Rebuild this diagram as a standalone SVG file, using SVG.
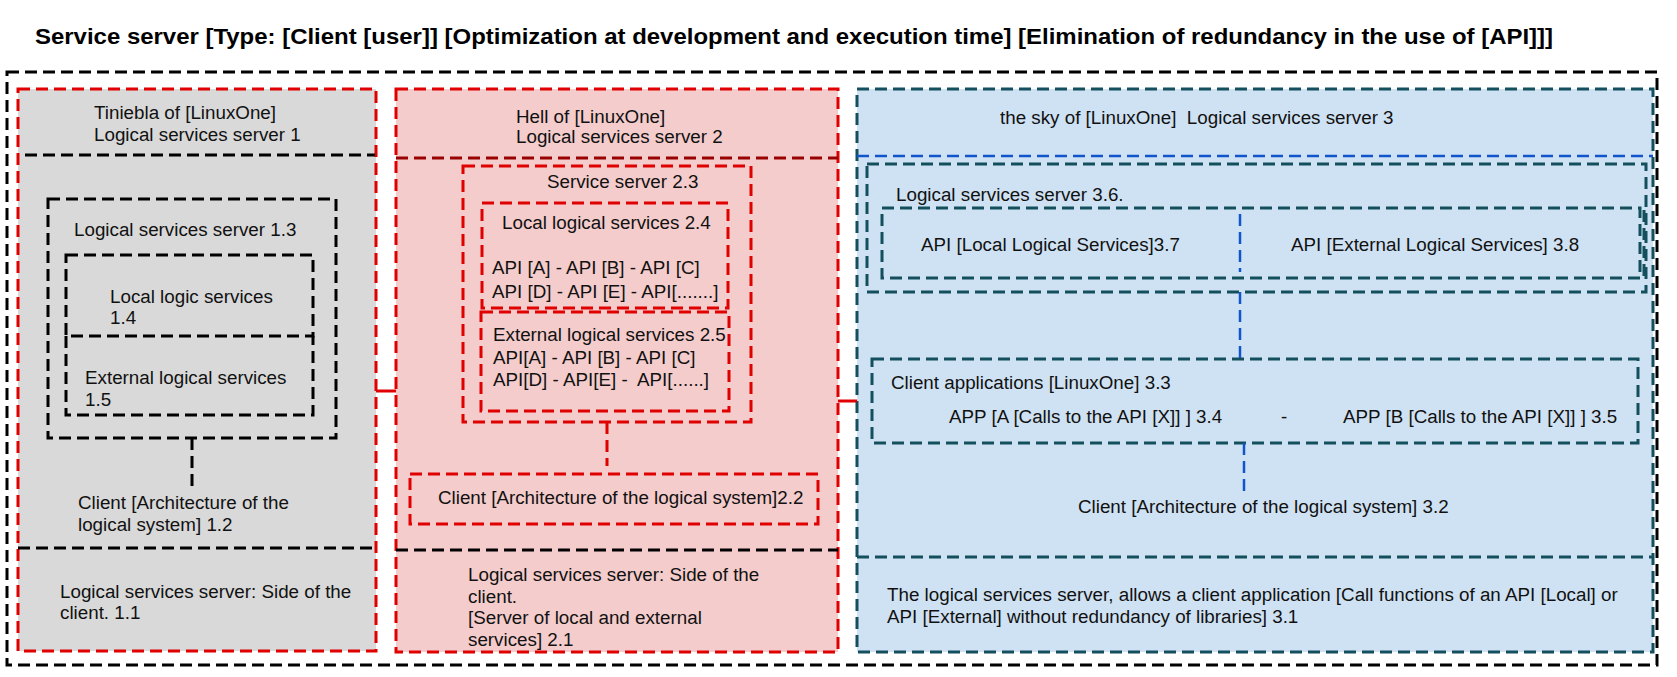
<svg xmlns="http://www.w3.org/2000/svg" width="1677" height="677" viewBox="0 0 1677 677">
<style>
text{font-family:"Liberation Sans",Arial,sans-serif;font-size:18.8px;fill:#111;white-space:pre}
.title{font-size:22px;font-weight:bold;fill:#000}
.k{fill:none;stroke:#000;stroke-width:3;stroke-dasharray:12 6}
.r{stroke:#e00000;stroke-width:3;stroke-dasharray:12 6}
.dr{fill:none;stroke:#990000;stroke-width:3;stroke-dasharray:12 6}
.t{stroke:#134f5c;stroke-width:3;stroke-dasharray:12 6}
.bl{fill:none;stroke:#1155cc;stroke-width:2.5;stroke-dasharray:12 6}
.nf{fill:none}
</style>
<rect width="1677" height="677" fill="#fff"/>
<text class="title" x="35" y="44" textLength="1518" lengthAdjust="spacingAndGlyphs">Service server [Type: [Client [user]] [Optimization at development and execution time] [Elimination of redundancy in the use of [API]]]</text>
<rect id="outer" class="k" x="7" y="72" width="1650" height="593"/>

<g id="server1">
<rect class="r" x="18" y="89" width="358" height="562" fill="#d9d9d9"/>
<line class="k" x1="25" y1="155" x2="375" y2="155"/>
<text x="94" y="119">Tiniebla of [LinuxOne]</text>
<text x="94" y="141">Logical services server 1</text>
<line class="k" x1="18" y1="548" x2="376" y2="548"/>
<text x="60" y="598">Logical services server: Side of the</text>
<text x="60" y="619">client. 1.1</text>
</g>
<g id="n1_3">
<rect class="k" x="48" y="199" width="288" height="239"/>
<text x="74" y="236">Logical services server 1.3</text>
</g>
<g id="n1_4">
<rect class="k" x="66" y="255" width="247" height="81"/>
<text x="110" y="303">Local logic services</text>
<text x="110" y="324">1.4</text>
</g>
<g id="n1_5">
<path class="k" d="M66 336 V415 H313 V336"/>
<text x="85" y="384">External logical services</text>
<text x="85" y="406">1.5</text>
</g>
<g id="n1_2">
<text x="78" y="509">Client [Architecture of the</text>
<text x="78" y="531">logical system] 1.2</text>
</g>

<g id="server2">
<rect class="r" x="396" y="89" width="442" height="563" fill="#f4cccc"/>
<line class="dr" x1="396" y1="158" x2="838" y2="158"/>
<text x="516" y="123">Hell of [LinuxOne]</text>
<text x="516" y="143">Logical services server 2</text>
<line class="k" x1="396" y1="550" x2="838" y2="550"/>
<text x="468" y="581">Logical services server: Side of the</text>
<text x="468" y="603">client.</text>
<text x="468" y="624">[Server of local and external</text>
<text x="468" y="646">services] 2.1</text>
</g>
<g id="n2_3">
<rect class="r nf" x="463" y="166" width="288" height="256"/>
<text x="547" y="188">Service server 2.3</text>
</g>
<g id="n2_4">
<rect class="r nf" x="482" y="203" width="246" height="105"/>
<text x="502" y="229">Local logical services 2.4</text>
<text x="492" y="274">API [A] - API [B] - API [C]</text>
<text x="492" y="298">API [D] - API [E] - API[.......]</text>
</g>
<g id="n2_5">
<rect class="r nf" x="481" y="312" width="248" height="99"/>
<text x="493" y="341">External logical services 2.5</text>
<text x="493" y="364">API[A] - API [B] - API [C]</text>
<text x="493" y="386">API[D] - API[E] -  API[......]</text>
</g>
<g id="n2_2">
<rect class="r nf" x="410" y="474" width="408" height="50"/>
<text x="438" y="504">Client [Architecture of the logical system]2.2</text>
</g>

<g id="server3">
<rect class="t" x="857" y="89" width="796" height="563" fill="#cfe2f3"/>
<text x="1000" y="124">the sky of [LinuxOne]  Logical services server 3</text>
<line class="bl" x1="857" y1="156" x2="1653" y2="156"/>
<line class="t" x1="857" y1="557" x2="1653" y2="557"/>
<text x="887" y="601">The logical services server, allows a client application [Call functions of an API [Local] or</text>
<text x="887" y="623">API [External] without redundancy of libraries] 3.1</text>
</g>
<g id="n3_6">
<rect class="t nf" x="867" y="164" width="779" height="128"/>
<text x="896" y="201">Logical services server 3.6.</text>
</g>
<g id="n3_7_8">
<rect class="t nf" x="882" y="208" width="758" height="70"/>
<line class="t" x1="1644" y1="210" x2="1644" y2="278"/>
<line class="bl" x1="1240" y1="214" x2="1240" y2="272"/>
<text x="921" y="251">API [Local Logical Services]3.7</text>
<text x="1291" y="251">API [External Logical Services] 3.8</text>
</g>
<g id="n3_3">
<rect class="t nf" x="872" y="359" width="766" height="84"/>
<text x="891" y="389">Client applications [LinuxOne] 3.3</text>
<text x="949" y="423">APP [A [Calls to the API [X]] ] 3.4</text>
<text x="1281" y="423">-</text>
<text x="1343" y="423">APP [B [Calls to the API [X]] ] 3.5</text>
</g>
<g id="n3_2">
<text x="1078" y="513">Client [Architecture of the logical system] 3.2</text>
</g>

<g id="connectors">
<line x1="376" y1="391" x2="396" y2="391" stroke="#e00000" stroke-width="3"/>
<line x1="838" y1="401" x2="857" y2="401" stroke="#e00000" stroke-width="3"/>
<line class="k" x1="192" y1="438" x2="192" y2="488"/>
<line class="r" x1="607" y1="422" x2="607" y2="466"/>
<line class="bl" x1="1240" y1="292" x2="1240" y2="359"/>
<line class="bl" x1="1244" y1="443" x2="1244" y2="492"/>
</g>
</svg>
